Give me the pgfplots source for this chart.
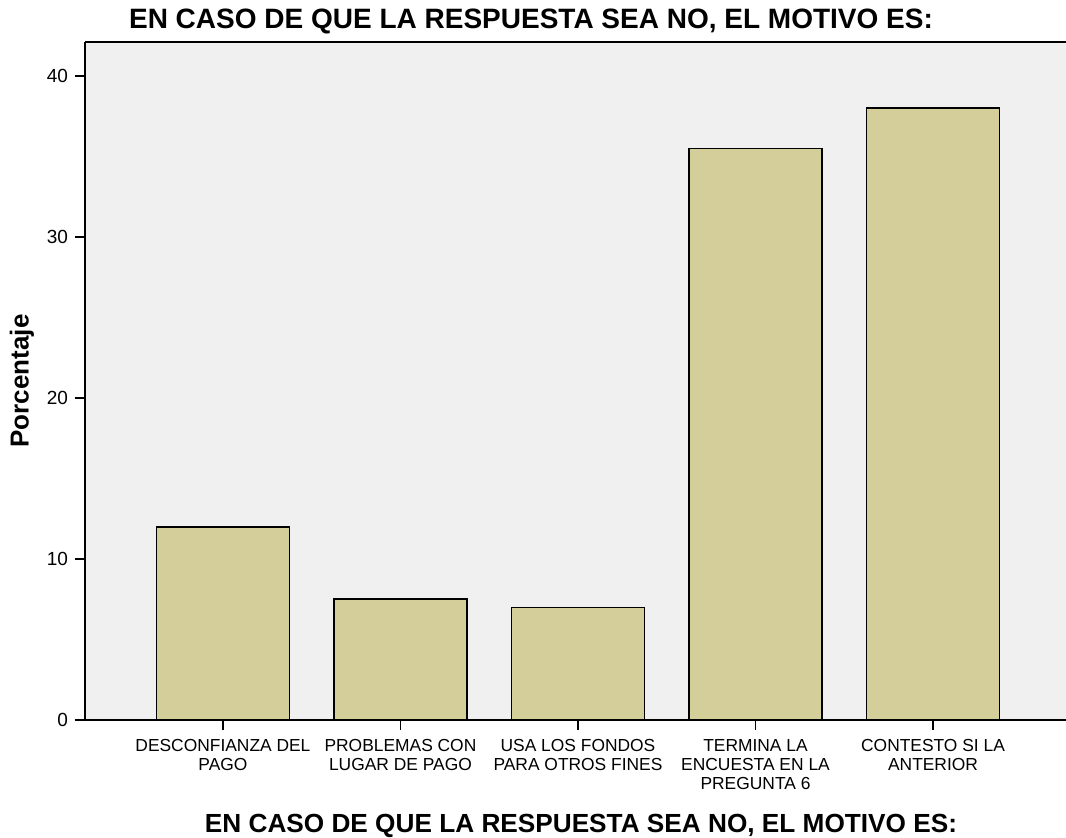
\documentclass[border=0pt]{standalone}
\usepackage{fontspec}
\setmainfont{Liberation Sans}
\usepackage{pgfplots}
\pgfplotsset{compat=1.18}
\definecolor{barcol}{RGB}{211,206,154}
\definecolor{bgcol}{RGB}{240,240,240}
\begin{document}
\begin{tikzpicture}
\useasboundingbox (-42.5pt,-58.5pt) rectangle (490.5pt,360pt);
\begin{axis}[
  at={(0,0)}, anchor=south west,
  scale only axis, width=490.5pt, height=339pt,
  xmin=-0.777, xmax=4.749, ymin=0, ymax=42.11,
  axis x line*=bottom, axis y line*=left,
  axis line style={line width=1pt, -},
  axis background/.style={fill=bgcol},
  xtick={0,1,2,3,4},
  xticklabels={{DESCONFIANZA DEL\\PAGO},{PROBLEMAS CON\\LUGAR DE PAGO},{USA LOS FONDOS\\PARA OTROS FINES},{TERMINA LA\\ENCUESTA EN LA\\PREGUNTA 6},{CONTESTO SI LA\\ANTERIOR}},
  xticklabel style={align=center, font=\fontsize{8.7}{9.5}\selectfont, yshift=-1pt},
  ytick={0,10,20,30,40},
  yticklabel style={font=\fontsize{9.5}{10}\selectfont},
  /pgf/number format/assume math mode=true,
  tick align=outside, major tick length=5pt,
  tick style={line width=0.8pt, black},
  ylabel={Porcentaje},
  every axis y label/.style={at={(rel axis cs:0,0.5)}, xshift=-31.5pt, rotate=90, anchor=center, font=\fontsize{13}{15}\selectfont\bfseries},
  clip=false,
]
\addplot[ybar, bar width=66.5pt, fill=barcol, draw=black, line width=0.75pt] coordinates {(0,12.0) (1,7.5) (2,7.0) (3,35.5) (4,38.0)};
\draw[line width=1pt] (rel axis cs:0,1) -- (rel axis cs:1,1);
\end{axis}
\node[anchor=base, font=\fontsize{14}{16}\selectfont\bfseries] at (223pt,345.5pt) {EN CASO DE QUE LA RESPUESTA SEA NO, EL MOTIVO ES:};
\node[anchor=base, font=\fontsize{13.1}{15}\selectfont\bfseries] at (248pt,-56pt) {EN CASO DE QUE LA RESPUESTA SEA NO, EL MOTIVO ES:};
\end{tikzpicture}
\end{document}
